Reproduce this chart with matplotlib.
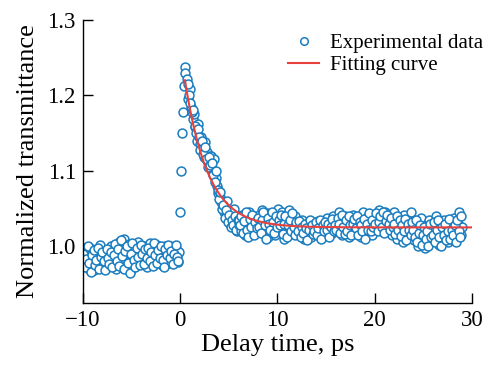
import numpy as np
import matplotlib
matplotlib.use("Agg")
import matplotlib.pyplot as plt

plt.rcParams['font.family'] = ['Liberation Serif', 'DejaVu Serif']

# ---- data ----
pre_y = [0.998, 0.985, 0.975, 0.992, 0.970, 0.982, 0.996, 0.978, 0.968, 0.988,
         0.980, 0.995, 1.002, 0.985, 0.975, 0.992, 0.983, 0.972, 0.990, 1.000,
         0.986, 0.978, 0.995, 0.970, 0.984, 1.005, 0.992, 0.980, 1.010, 0.998,
         0.975, 0.988, 1.003, 0.968, 0.985, 0.996, 0.976, 0.990, 1.006, 0.984,
         0.995, 0.979, 1.000, 0.988, 0.972, 0.993, 1.004, 0.986, 0.998, 0.980,
         0.992, 1.002, 0.983, 0.996, 0.975, 0.990, 1.001, 0.985, 0.994, 0.978,
         1.000, 0.988, 0.996, 0.982, 0.998, 0.979, 0.993]
pre_y2 = [0.990, 0.972, 0.983, 1.000, 0.978, 0.966, 0.988, 0.995, 0.975, 0.982,
          0.998, 0.970, 0.986, 0.993, 0.980, 0.968, 0.997, 0.985, 0.976, 0.992,
          0.972, 0.988, 1.003, 0.980, 0.996, 0.974, 1.008, 0.987, 0.970, 0.994,
          1.000, 0.978, 0.965, 0.990, 1.004, 0.982, 0.972, 0.998, 0.986, 0.975,
          1.002, 0.990, 0.976, 0.996, 0.984, 0.998, 0.980, 0.992, 0.974, 1.004,
          0.988, 0.978, 0.995, 0.985, 1.000, 0.982, 0.972, 0.996, 0.988, 1.002,
          0.984, 0.994, 0.976, 0.990, 1.002, 0.986, 0.980]
pre_x_range = (-10.0, -0.1)
pre_x2_range = (-9.93, -0.17)

rise_x = [0.0, 0.1, 0.2, 0.3, 0.4, 0.5, 0.55]
rise_y = [1.045, 1.100, 1.150, 1.178, 1.212, 1.238, 1.230]

decay_y = [1.222, 1.195, 1.208, 1.185, 1.168, 1.175, 1.158, 1.140, 1.162, 1.135,
           1.145, 1.130, 1.118, 1.138, 1.125, 1.112, 1.120,
           1.120, 1.100, 1.115, 1.090, 1.080, 1.070, 1.065, 1.058, 1.050, 1.045,
           1.040, 1.060, 1.035, 1.030, 1.045, 1.025, 1.050, 1.030, 1.020, 1.040]
decay_y2 = [1.215, 1.200, 1.190, 1.178, 1.180, 1.160, 1.150, 1.155, 1.145, 1.128,
            1.140, 1.122, 1.132, 1.115, 1.105, 1.118, 1.108,
            1.110, 1.095, 1.085, 1.100, 1.075, 1.062, 1.072, 1.050, 1.055, 1.038,
            1.048, 1.032, 1.042, 1.025, 1.035, 1.028, 1.040, 1.022, 1.035, 1.028]
decay_x_range = (0.7, 6.0)
decay_x2_range = (0.77, 6.07)

tail_y = [1.035, 1.020, 1.042, 1.028, 1.015, 1.038, 1.025, 1.045, 1.030, 1.018, 1.040, 1.027, 1.035, 1.022,
          1.042, 1.030, 1.048, 1.020, 1.036, 1.025, 1.044, 1.012, 1.030, 1.040, 1.022, 1.034, 1.015, 1.028,
          1.050, 1.038, 1.020, 1.045, 1.010, 1.032, 1.042, 1.025, 1.048, 1.018, 1.035, 1.028, 1.040, 1.022,
          1.030, 1.015, 1.026, 1.035, 1.020, 1.010, 1.028, 1.018, 1.032, 1.022, 1.012, 1.030, 1.024, 1.016,
          1.028, 1.034, 1.018, 1.025, 1.012, 1.030, 1.020, 1.038, 1.015, 1.026, 1.032, 1.018, 1.040, 1.024,
          1.035, 1.020, 1.045, 1.028, 1.015, 1.032, 1.040, 1.022, 1.030, 1.012, 1.036, 1.025, 1.042, 1.018,
          1.030, 1.020, 1.038, 1.025, 1.012, 1.045, 1.028, 1.035, 1.018, 1.040, 1.025, 1.032, 1.015, 1.030,
          1.042, 1.028, 1.035, 1.048, 1.022, 1.038, 1.030, 1.045, 1.020, 1.035, 1.026, 1.040, 1.015, 1.032,
          1.045, 1.025, 1.010, 1.038, 1.020, 1.030, 1.005, 1.042, 1.018, 1.028, 1.035, 1.012, 1.046, 1.020,
          1.008, 1.030, 1.015, 1.000, 1.025, 1.038, 1.010, 1.020, 0.998, 1.028, 1.012, 1.035, 1.005, 1.018,
          1.025, 1.010, 1.040, 1.015, 1.002, 1.030, 1.020, 1.008, 1.035, 1.012, 1.025, 1.005, 1.018, 1.030,
          1.010, 1.038, 1.020, 1.012, 1.030, 1.045, 1.015, 1.025]
tail_y2 = [1.028, 1.040, 1.018, 1.033, 1.045, 1.022, 1.012, 1.036, 1.026, 1.042, 1.015, 1.032, 1.024, 1.038,
           1.025, 1.018, 1.035, 1.045, 1.028, 1.010, 1.038, 1.030, 1.022, 1.046, 1.032, 1.018, 1.040, 1.026,
           1.035, 1.028, 1.042, 1.016, 1.030, 1.040, 1.012, 1.028, 1.035, 1.020, 1.044, 1.025, 1.015, 1.032,
           1.020, 1.034, 1.012, 1.026, 1.018, 1.030, 1.024, 1.008, 1.022, 1.035, 1.028, 1.016, 1.020, 1.032,
           1.015, 1.024, 1.035, 1.010, 1.028, 1.020, 1.032, 1.022, 1.030, 1.012, 1.025, 1.036, 1.020, 1.028,
           1.022, 1.038, 1.030, 1.018, 1.042, 1.025, 1.016, 1.035, 1.020, 1.040, 1.028, 1.015, 1.030, 1.036,
           1.024, 1.040, 1.015, 1.032, 1.028, 1.020, 1.036, 1.010, 1.030, 1.022, 1.044, 1.020, 1.035, 1.026,
           1.030, 1.044, 1.020, 1.032, 1.040, 1.026, 1.046, 1.018, 1.034, 1.042, 1.030, 1.022, 1.038, 1.025,
           1.030, 1.016, 1.040, 1.022, 1.035, 1.014, 1.028, 1.020, 1.036, 1.008, 1.030, 1.022, 1.015, 1.032,
           1.022, 1.012, 1.035, 1.005, 1.018, 1.028, 1.002, 1.015, 1.025, 1.010, 1.020, 1.000, 1.030, 1.012,
           1.015, 1.032, 1.005, 1.022, 1.035, 1.012, 1.000, 1.025, 1.015, 1.030, 1.008, 1.020, 1.036, 1.010,
           1.022, 1.015, 1.028, 1.005, 1.035, 1.020, 1.012, 1.040]
tail_x_range = (6.1, 29.0)
tail_x2_range = (6.17, 28.93)

# exponential fit parameters
fit_y0 = 1.025
fit_amp = 0.195
fit_t0 = 0.5
fit_tau = 2.38
fit_x_range = (0.5, 30.0)

x_ticks = [-10, 0, 10, 20, 30]
x_tick_labels = ['\u221210', '0', '10', '20', '30']
y_ticks = [1.0, 1.1, 1.2, 1.3]
y_tick_labels = ['1.0', '1.1', '1.2', '1.3']

# ---- assemble ----
exp_x = np.concatenate([
    np.linspace(*pre_x_range, len(pre_y)),
    np.linspace(*pre_x2_range, len(pre_y2)),
    rise_x,
    np.linspace(*decay_x_range, len(decay_y)),
    np.linspace(*decay_x2_range, len(decay_y2)),
    np.linspace(*tail_x_range, len(tail_y)),
    np.linspace(*tail_x2_range, len(tail_y2)),
])
exp_y = np.concatenate([pre_y, pre_y2, rise_y, decay_y, decay_y2, tail_y, tail_y2])

fx = np.linspace(*fit_x_range, 400)
fy = fit_y0 + fit_amp * np.exp(-(fx - fit_t0) / fit_tau)

fig = plt.figure(figsize=(4.9, 3.68), dpi=100)
ax = fig.add_axes([0.169, 0.177, 0.794, 0.769])

blue = '#1a7dc0'
red = '#e8413c'
ax.plot(exp_x, exp_y, linestyle='none', marker='o', markersize=6.4,
        markerfacecolor='white', markeredgecolor=blue, markeredgewidth=1.1,
        label='Experimental data')
ax.plot(fx, fy, color=red, lw=1.5, label='Fitting curve')

ax.set_xlim(-10, 30)
ax.set_ylim(0.925, 1.3)
ax.set_xticks(x_ticks)
ax.set_yticks(y_ticks)
ax.set_xticklabels(x_tick_labels)
ax.set_yticklabels(y_tick_labels)
for s in ['top', 'right']:
    ax.spines[s].set_visible(False)
for s in ['left', 'bottom']:
    ax.spines[s].set_linewidth(1.0)
ax.tick_params(direction='in', length=7, width=1.0, labelsize=16.5, pad=5)
ax.set_xlabel('Delay time, ps', fontsize=19, labelpad=2)
ax.set_ylabel('Normalized transmittance', fontsize=19, labelpad=6)

ax.legend(loc='upper right', bbox_to_anchor=(1.05, 0.98), frameon=False,
          fontsize=15, handlelength=1.5, handletextpad=0.5,
          labelspacing=0.1, borderaxespad=0, markerscale=0.85)

fig.savefig('out.png', dpi=100)
